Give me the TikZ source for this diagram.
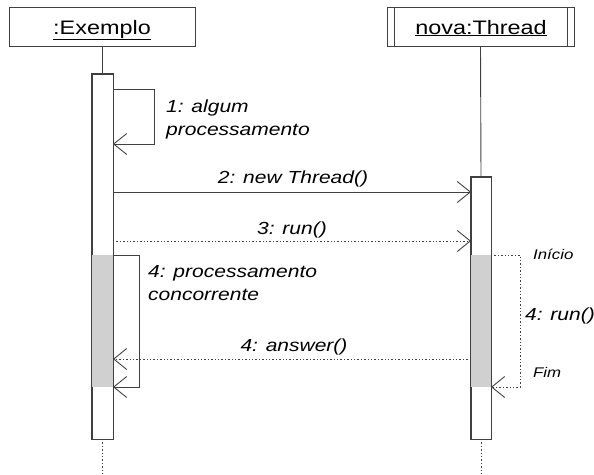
\documentclass[tikz,border=0pt]{standalone}
\usepackage{fontspec}
\usepackage{graphicx}
\setmainfont{Liberation Sans}
\usetikzlibrary{arrows.meta}
\newcommand{\hstr}[1]{\scalebox{1.2}[1]{#1}}
\definecolor{ln}{HTML}{404040}
\definecolor{act}{HTML}{D0D0D0}
\tikzset{
  objbox/.style={draw=ln, line width=0.9pt, fill=white, minimum width=186pt, minimum height=39pt, inner sep=0},
  bar/.style={draw=ln, line width=0.9pt, fill=white},
  life/.style={draw=ln, line width=0.9pt},
  dotline/.style={draw=ln, line width=0.9pt, dash pattern=on 1.4pt off 2pt},
  msg/.style={draw=ln, line width=0.9pt, -{Straight Barb[length=13pt,width=21pt,line width=0.9pt]}},
  rmsg/.style={msg, dash pattern=on 1.4pt off 2pt},
  lbl/.style={inner sep=0, anchor=base west, font=\fontsize{17.5}{21}\selectfont\itshape},
  lblc/.style={inner sep=0, anchor=base, font=\fontsize{17.5}{21}\selectfont\itshape},
  small/.style={inner sep=0, anchor=base west, font=\fontsize{14}{17}\selectfont\itshape},
  title/.style={inner sep=0, anchor=base, font=\fontsize{19.5}{23}\selectfont},
}
\begin{document}
\begin{tikzpicture}[x=1pt,y=-1pt]
\useasboundingbox (0,0) rectangle (594,474);
% object boxes
\node[objbox] (ex) at (102,26.5) {};
\node[title] (extxt) at (102,34) {\hstr{\underline{:Exemplo}}};
\node[objbox, minimum width=187pt] (th) at (480.5,26.5) {};
\draw[ln, line width=0.9pt] (394,7) -- (394,46) (567.5,7) -- (567.5,46);
\node[title] (thtxt) at (481,34) {\hstr{\underline{nova:Thread}}};
% lifelines
\coordinate (exl) at (102,74);
\coordinate (thl) at (481,177);
\draw[life] (ex.south) -- (exl);
\draw[life] (th.south) -- (thl);
\coordinate (exend) at (102.5,474);
\coordinate (thend) at (481,474);
\draw[dotline] (102.5,439) -- (exend);
\draw[dotline] (481,439) -- (thend);
% activation bars
\node[bar, minimum width=21pt, minimum height=365pt, inner sep=0] (exbar) at (102.5,256.5) {};
\fill[act] (92,255) rectangle (113,387);
\draw[ln, line width=0.9pt] (exbar.north west) rectangle (exbar.south east);
\node[bar, minimum width=20pt, minimum height=262pt, inner sep=0] (thbar) at (481,308) {};
\fill[act] (471,255) rectangle (491,387);
\draw[ln, line width=0.9pt] (thbar.north west) rectangle (thbar.south east);
% message 1 self
\coordinate (m1a) at (113,89);
\coordinate (m1b) at (113,144);
\draw[msg] (m1a) -- (154,89) -- (154,144) -- (m1b);
\node[lbl] (l1a) at (166,112) {\hstr{1: algum}};
\node[lbl] (l1b) at (166,135) {\hstr{processamento}};
% message 2
\coordinate (m2a) at (113,192);
\coordinate (m2b) at (471,192);
\draw[msg] (m2a) -- (m2b);
\node[lblc] (l2) at (293,183) {\hstr{2: new Thread()}};
% message 3
\coordinate (m3a) at (113,241);
\coordinate (m3b) at (471,241);
\draw[rmsg] (m3a) -- (m3b);
\node[lblc] (l3) at (292,234) {\hstr{3: run()}};
% message 4 self on Exemplo
\coordinate (m4a) at (113,255);
\coordinate (m4b) at (113,387);
\draw[msg] (m4a) -- (139,255) -- (139,387) -- (m4b);
\node[lbl] (l4a) at (148,277) {\hstr{4: processamento}};
\node[lbl] (l4b) at (148,300) {\hstr{concorrente}};
% answer
\coordinate (m5a) at (471,359);
\coordinate (m5b) at (113,359);
\draw[rmsg] (m5a) -- (m5b);
\node[lblc] (l5) at (294,351) {\hstr{4: answer()}};
% run self on Thread
\coordinate (m6a) at (491,255);
\coordinate (m6b) at (491,387);
\draw[rmsg] (m6a) -- (520,255) -- (520,387) -- (m6b);
\node[small] (ini) at (533,259) {\hstr{Início}};
\node[lbl] (l6) at (525,320) {\hstr{4: run()}};
\node[small] (fim) at (533,377) {\hstr{Fim}};
\end{tikzpicture}
\end{document}
